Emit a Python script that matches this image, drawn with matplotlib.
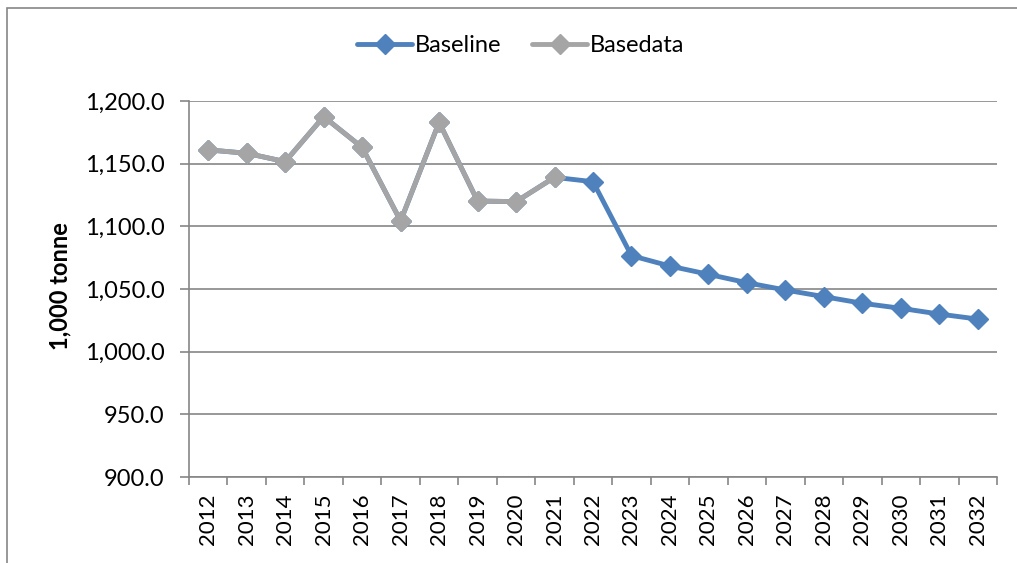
import matplotlib
matplotlib.use("Agg")
import matplotlib.pyplot as plt
import numpy as np
from matplotlib.ticker import FixedLocator, FuncFormatter
from matplotlib.patches import Rectangle

years = list(range(2012, 2033))
baseline = [1161, 1158.3, 1151.6, 1187.5, 1163, 1104.3, 1183, 1120.2, 1119.7, 1139.1,
            1135.6, 1076.6, 1068.3, 1061.7, 1055.0, 1049.2, 1043.9, 1038.6, 1034.6, 1030.0, 1026.0]
basedata = [1161, 1158.3, 1151.6, 1187.5, 1163, 1104.3, 1183, 1120.2, 1119.7, 1139.1]
yticks = [900, 950, 1000, 1050, 1100, 1150, 1200]

plt.rcParams['font.family'] = ['Lato', 'DejaVu Sans']

fig = plt.figure(figsize=(10.17, 5.63), dpi=100)
fig.patches.append(Rectangle((7/1017, -0.1), 1.2, 1 - 8/563 + 0.1, transform=fig.transFigure,
                             fill=False, edgecolor='#868686', linewidth=1.2))
ax = fig.add_axes([189/1017, 1 - 477/563, 808/1017, 376/563])

x = np.arange(len(years))
gray = '#A5A5A5'
blue = '#4F81BD'
ax.plot(x, baseline, color=blue, lw=3.5, marker='D', markersize=10, label='Baseline',
        solid_capstyle='round', zorder=3)
ax.plot(x[:len(basedata)], basedata, color=gray, lw=3.5, marker='D', markersize=10,
        label='Basedata', solid_capstyle='round', zorder=4)

ax.set_xlim(-0.5, len(years) - 0.5)
ax.set_ylim(900, 1200)
ax.set_yticks(yticks)
ax.yaxis.set_major_formatter(FuncFormatter(lambda v, p: f"{v:,.1f}"))
ax.grid(axis='y', color='#868686', lw=1.2)
ax.set_axisbelow(True)
ax.set_xticks(x)
ax.set_xticklabels([str(y) for y in years], rotation=90, fontsize=16)
ax.xaxis.set_minor_locator(FixedLocator(np.arange(-0.5, len(years), 1)))
ax.tick_params(axis='x', which='major', length=0, pad=12)
ax.tick_params(axis='x', which='minor', length=6, color='#868686', width=1.2)
ax.tick_params(axis='y', length=6.5, color='#868686', width=1.2, labelsize=17, pad=11)
for s in ['top', 'right']:
    ax.spines[s].set_visible(False)
for s in ['left', 'bottom']:
    ax.spines[s].set_color('#868686')
    ax.spines[s].set_linewidth(1.2)

fig.text(60/1017, 1 - 286/563, '1,000 tonne', rotation=90, fontsize=17, fontweight='bold',
         ha='center', va='center')

leg = fig.legend(loc='center', bbox_to_anchor=(521/1017, 1 - 46/563), ncol=2, frameon=False,
                 fontsize=17, handlelength=2.3, columnspacing=1.3, handletextpad=0.15)

fig.savefig('out.png', dpi=100)
